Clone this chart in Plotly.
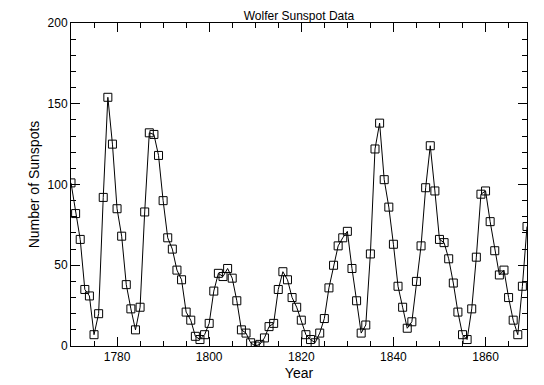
import plotly.graph_objects as go

years = list(range(1770, 1870))
sunspots = [101, 82, 66, 35, 31, 7, 20, 92, 154, 125,
            85, 68, 38, 23, 10, 24, 83, 132, 131, 118,
            90, 67, 60, 47, 41, 21, 16, 6, 4, 7,
            14, 34, 45, 43, 48, 42, 28, 10, 8, 2,
            0, 1, 5, 12, 14, 35, 46, 41, 30, 24,
            16, 7, 4, 2, 8, 17, 36, 50, 62, 67,
            71, 48, 28, 8, 13, 57, 122, 138, 103, 86,
            63, 37, 24, 11, 15, 40, 62, 98, 124, 96,
            66, 64, 54, 39, 21, 7, 4, 23, 55, 94,
            96, 77, 59, 44, 47, 30, 16, 7, 37, 74]

fig = go.Figure()
fig.add_trace(go.Scatter(
    x=years, y=sunspots, mode="lines+markers",
    line=dict(color="black", width=1),
    marker=dict(symbol="square-open", size=8, color="black", line=dict(width=1, color="black")),
    showlegend=False,
))

font = dict(family="Liberation Sans, Arial, sans-serif", size=12, color="black")
fig.update_layout(
    width=536, height=377,
    margin=dict(l=63, r=17, t=15, b=39, autoexpand=False),
    paper_bgcolor="white", plot_bgcolor="white",
    font=font,
    title=dict(text="Wolfer Sunspot Data", x=0.5, xanchor="center", xref="paper",
               y=1, yanchor="bottom", yref="paper", pad=dict(b=3), font=dict(size=12),
               automargin=False),
    xaxis=dict(range=[1770, 1869], tickvals=[1780, 1800, 1820, 1840, 1860],
               ticks="inside", ticklen=9, tickcolor="black", tickwidth=1,
               minor=dict(dtick=5, tick0=1770, ticks="inside", ticklen=5, tickcolor="black", showgrid=False),
               showline=True, linecolor="black", linewidth=1, mirror="allticks",
               showgrid=False, zeroline=False, automargin=False,
               title=dict(text="Year", standoff=4)),
    yaxis=dict(range=[0, 200], tickvals=[0, 50, 100, 150, 200],
               ticks="inside", ticklen=9, tickcolor="black", tickwidth=1,
               minor=dict(dtick=10, tick0=0, ticks="inside", ticklen=5, tickcolor="black", showgrid=False),
               showline=True, linecolor="black", linewidth=1, mirror="allticks",
               showgrid=False, zeroline=False, automargin=False,
               title=dict(text="Number of Sunspots", standoff=4)),
)

fig.write_html("out.html")
